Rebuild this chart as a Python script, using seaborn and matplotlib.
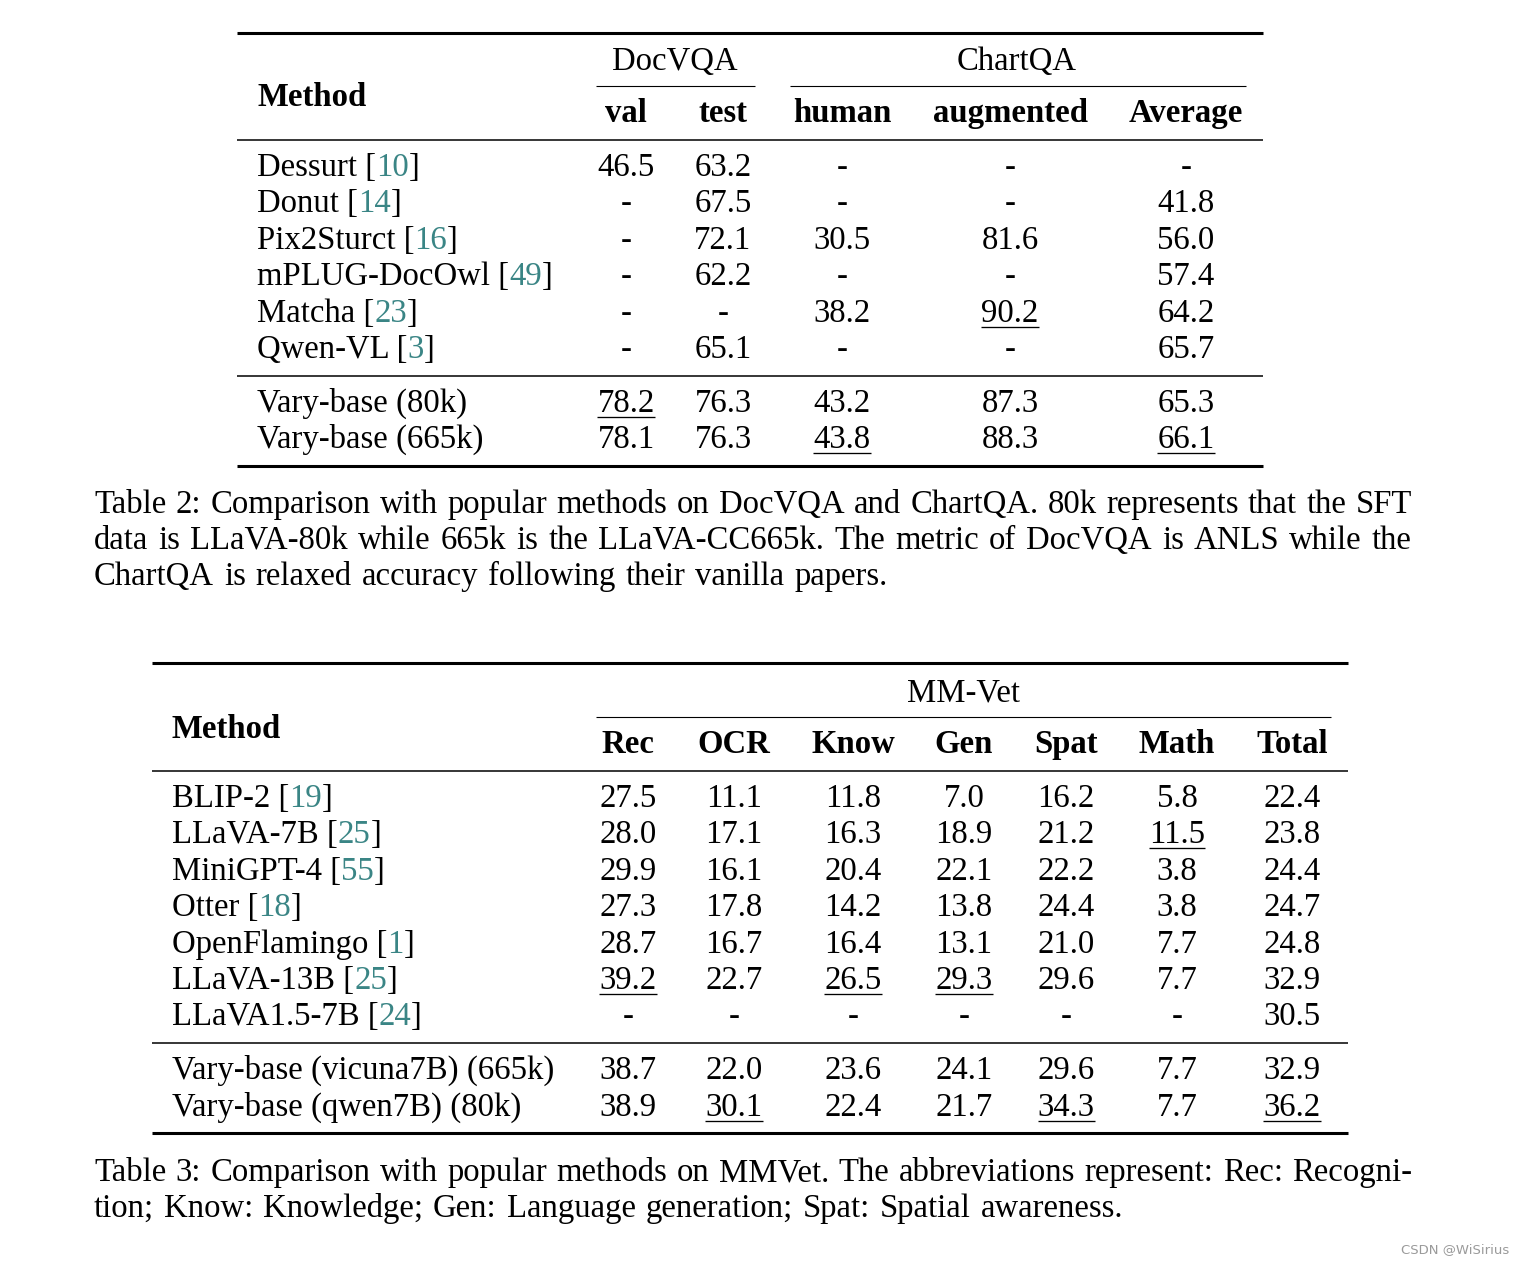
import matplotlib
matplotlib.use("Agg")
import matplotlib.pyplot as plt
import seaborn as sns
import pandas as pd

# ---------------- data ----------------
methods2 = ["Dessurt", "Donut", "Pix2Sturct", "mPLUG-DocOwl", "Matcha", "Qwen-VL",
            "Vary-base (80k)", "Vary-base (665k)"]
cites2 = ["10", "14", "16", "49", "23", "3", None, None]
docvqa_val = [46.5, None, None, None, None, None, 78.2, 78.1]
docvqa_test = [63.2, 67.5, 72.1, 62.2, None, 65.1, 76.3, 76.3]
chartqa_human = [None, None, 30.5, None, 38.2, None, 43.2, 43.8]
chartqa_aug = [None, None, 81.6, None, 90.2, None, 87.3, 88.3]
chartqa_avg = [None, 41.8, 56.0, 57.4, 64.2, 65.7, 65.3, 66.1]
cols2 = ["val", "test", "human", "augmented", "Average"]
groups2 = ["DocVQA", "ChartQA"]
underline2 = [(4, "augmented"), (6, "val"), (7, "human"), (7, "Average")]

methods3 = ["BLIP-2", "LLaVA-7B", "MiniGPT-4", "Otter", "OpenFlamingo", "LLaVA-13B",
            "LLaVA1.5-7B", "Vary-base (vicuna7B) (665k)", "Vary-base (qwen7B) (80k)"]
cites3 = ["19", "25", "55", "18", "1", "25", "24", None, None]
mm_rec = [27.5, 28.0, 29.9, 27.3, 28.7, 39.2, None, 38.7, 38.9]
mm_ocr = [11.1, 17.1, 16.1, 17.8, 16.7, 22.7, None, 22.0, 30.1]
mm_know = [11.8, 16.3, 20.4, 14.2, 16.4, 26.5, None, 23.6, 22.4]
mm_gen = [7.0, 18.9, 22.1, 13.8, 13.1, 29.3, None, 24.1, 21.7]
mm_spat = [16.2, 21.2, 22.2, 24.4, 21.0, 29.6, None, 29.6, 34.3]
mm_math = [5.8, 11.5, 3.8, 3.8, 7.7, 7.7, None, 7.7, 7.7]
mm_total = [22.4, 23.8, 24.4, 24.7, 24.8, 32.9, 30.5, 32.9, 36.2]
cols3 = ["Rec", "OCR", "Know", "Gen", "Spat", "Math", "Total"]
group3 = "MM-Vet"
underline3 = [(1, "Math"), (5, "Rec"), (5, "Know"), (5, "Gen"),
              (8, "OCR"), (8, "Spat"), (8, "Total")]

caption2 = ["Table 2: Comparison with popular methods on DocVQA and ChartQA. 80k represents that the SFT",
            "data is LLaVA-80k while 665k is the LLaVA-CC665k. The metric of DocVQA is ANLS while the",
            "ChartQA is relaxed accuracy following their vanilla papers."]
caption3 = ["Table 3: Comparison with popular methods on MMVet. The abbreviations represent: Rec: Recogni-",
            "tion; Know: Knowledge; Gen: Language generation; Spat: Spatial awareness."]
watermark = "CSDN @WiSirius"

df2 = pd.DataFrame({"Method": methods2, "cite": cites2, "val": docvqa_val,
                    "test": docvqa_test, "human": chartqa_human,
                    "augmented": chartqa_aug, "Average": chartqa_avg})
df3 = pd.DataFrame({"Method": methods3, "cite": cites3, "Rec": mm_rec, "OCR": mm_ocr,
                    "Know": mm_know, "Gen": mm_gen, "Spat": mm_spat,
                    "Math": mm_math, "Total": mm_total})

# ---------------- style ----------------
sns.set_theme(style="white")
plt.rcParams["font.family"] = ["Liberation Serif", "DejaVu Serif"]
plt.rcParams["text.color"] = "black"
FS = 23.6
CITE = "#3a8585"

W, H = 1524, 1262
fig = plt.figure(figsize=(W / 100, H / 100), dpi=100)
ax = fig.add_axes([0, 0, 1, 1])
ax.set_xlim(0, W)
ax.set_ylim(H, 0)
ax.axis("off")
sns.despine(ax=ax, left=True, bottom=True)
renderer = fig.canvas.get_renderer()


def width_of(t):
    return t.get_window_extent(renderer).width


def segments(x, y, segs, weight="normal"):
    for s, c in segs:
        t = ax.text(x, y, s, color=c, ha="left", va="baseline", fontsize=FS,
                    fontweight=weight)
        x += width_of(t)


def method_cell(x, y, name, cite):
    if cite is None:
        segments(x, y, [(name, "black")])
    else:
        segments(x, y, [(name + " [", "black"), (cite, CITE), ("]", "black")])


def value_cell(x, y, v, under=False):
    s = "-" if v is None or pd.isna(v) else f"{v:.1f}"
    t = ax.text(x, y, s, ha="center", va="baseline", fontsize=FS, color="black")
    if under:
        bb = t.get_window_extent(renderer)
        ax.plot([x - bb.width / 2, x + bb.width / 2], [y + 4.5, y + 4.5],
                color="black", lw=0.95, solid_capstyle="butt")


def rule(x0, x1, y, lw):
    ax.plot([x0, x1], [y, y], color="black", lw=lw, solid_capstyle="butt")


def justified(x0, x1, y, line, justify=True):
    words = line.split(" ")
    ts = [ax.text(0, y, w, ha="left", va="baseline", fontsize=FS, color="black")
          for w in words]
    ws = [width_of(t) for t in ts]
    if justify and len(words) > 1:
        gap = (x1 - x0 - sum(ws)) / (len(words) - 1)
    else:
        gap = 9.9
    x = x0
    for t, w in zip(ts, ws):
        t.set_x(x)
        x += w + gap


# ---------------- Table 2 ----------------
T2_X0, T2_X1 = 237, 1263
t2_method_x = 257
t2_colx = {"val": 626, "test": 723, "human": 842, "augmented": 1010, "Average": 1186}
t2_group_x = {"DocVQA": 675, "ChartQA": 1017}
t2_cmid = {"DocVQA": (596, 755), "ChartQA": (790, 1246)}
t2_rows_y = [176, 212, 249, 285, 322, 358, 412, 448]

rule(T2_X0, T2_X1, 33, 2.2)
for g in groups2:
    ax.text(t2_group_x[g], 70, g, ha="center", va="baseline", fontsize=FS)
    rule(t2_cmid[g][0], t2_cmid[g][1], 86, 0.8)
ax.text(t2_method_x, 106, "Method", ha="left", va="baseline", fontsize=FS,
        fontweight="bold")
for c in cols2:
    ax.text(t2_colx[c], 122, c, ha="center", va="baseline", fontsize=FS,
            fontweight="bold")
rule(T2_X0, T2_X1, 139.5, 1.1)
for i, row in df2.iterrows():
    y = t2_rows_y[i]
    method_cell(t2_method_x, y, row["Method"], row["cite"])
    for c in cols2:
        value_cell(t2_colx[c], y, row[c], (i, c) in underline2)
rule(T2_X0, T2_X1, 376, 1.1)
rule(T2_X0, T2_X1, 465.5, 2.2)

for k, line in enumerate(caption2):
    justified(94, 1412, 513 + 36.2 * k, line, justify=(k < len(caption2) - 1))

# ---------------- Table 3 ----------------
T3_X0, T3_X1 = 152, 1348
t3_method_x = 172
t3_colx = {"Rec": 628, "OCR": 734, "Know": 853, "Gen": 964, "Spat": 1066,
           "Math": 1177, "Total": 1292}
t3_rows_y = [807, 843, 880, 916, 953, 989, 1025, 1079, 1116]

rule(T3_X0, T3_X1, 663, 2.2)
ax.text(964, 701, group3, ha="center", va="baseline", fontsize=FS)
rule(596, 1331, 717, 0.8)
ax.text(t3_method_x, 738, "Method", ha="left", va="baseline", fontsize=FS,
        fontweight="bold")
for c in cols3:
    ax.text(t3_colx[c], 753, c, ha="center", va="baseline", fontsize=FS,
            fontweight="bold")
rule(T3_X0, T3_X1, 770.5, 1.1)
for i, row in df3.iterrows():
    y = t3_rows_y[i]
    method_cell(t3_method_x, y, row["Method"], row["cite"])
    for c in cols3:
        value_cell(t3_colx[c], y, row[c], (i, c) in underline3)
rule(T3_X0, T3_X1, 1042.5, 1.1)
rule(T3_X0, T3_X1, 1133, 2.2)

for k, line in enumerate(caption3):
    justified(94, 1412, 1181 + 36 * k, line, justify=(k < len(caption3) - 1))

ax.text(1509, 1253, watermark, ha="right", va="baseline", fontsize=9.5,
        color="#9a9a9a", family=["DejaVu Sans"])

fig.savefig("out.png", dpi=100, facecolor="white")
